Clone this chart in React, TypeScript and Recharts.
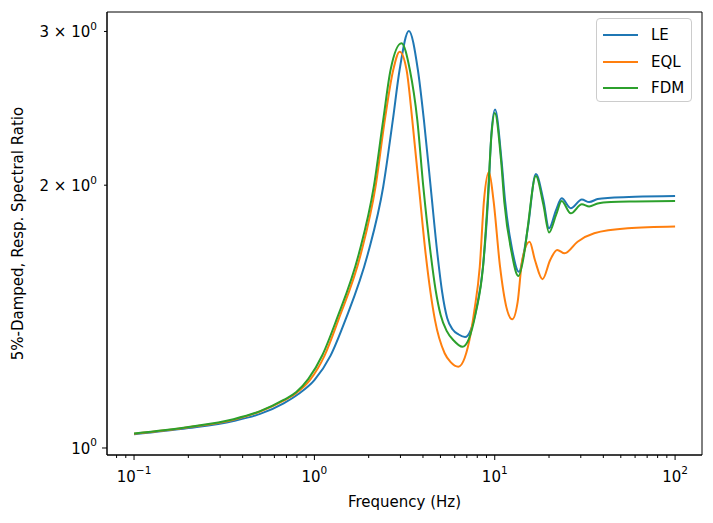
import { Legend, Line, LineChart, ReferenceArea, XAxis, YAxis } from 'recharts';

const FONT = '"DejaVu Sans", sans-serif';
const FONT_SIZE = 15;

const X_DOMAIN = [0.0708, 141];
const Y_DOMAIN = [0.9817, 3.158];

// LE (blue)
const LE_FREQ = [
  0.1, 0.2, 0.356, 0.5, 0.675, 0.815, 1.0, 1.227, 1.486, 1.982, 2.408, 2.723, 2.967, 3.34, 3.749,
  4.047, 4.411, 4.806, 5.109, 5.447, 5.845, 6.31, 6.84, 7.36, 7.94, 8.61, 9.18, 9.59, 10.04, 10.9,
  11.4, 12.5, 13.6, 14.6, 15.3, 16.9, 18.6, 20.0, 21.9, 23.5, 26.4, 30.4, 33.4, 37.2, 44.1, 60, 100,
];
const LE_RATIO = [
  1.037, 1.054, 1.074, 1.094, 1.125, 1.153, 1.196, 1.275, 1.402, 1.671, 1.992, 2.376, 2.71, 3.004,
  2.71, 2.376, 1.992, 1.671, 1.509, 1.409, 1.367, 1.349, 1.34, 1.365, 1.449, 1.613, 1.923, 2.294,
  2.442, 2.138, 1.923, 1.686, 1.592, 1.686, 1.793, 2.06, 1.923, 1.785, 1.874, 1.932, 1.882, 1.926,
  1.913, 1.928, 1.935, 1.94, 1.944,
];

// EQL (orange)
const EQL_FREQ = [
  0.1, 0.2, 0.356, 0.5, 0.675, 0.794, 0.944, 1.137, 1.359, 1.813, 2.183, 2.458, 2.736, 2.97, 3.245,
  3.489, 3.797, 4.136, 4.66, 5.275, 5.695, 6.285, 6.81, 7.36, 7.7, 8.26, 8.72, 9.29, 9.84, 10.7,
  11.6, 12.5, 13.4, 14.2, 15.6, 16.7, 18.4, 20.3, 22.2, 24.4, 28.8, 35.6, 54.6, 100,
];
const EQL_RATIO = [
  1.038, 1.056, 1.077, 1.101, 1.133, 1.156, 1.196, 1.275, 1.402, 1.671, 1.992, 2.376, 2.71, 2.844,
  2.71, 2.376, 1.992, 1.671, 1.402, 1.284, 1.254, 1.239, 1.268, 1.353, 1.435, 1.613, 1.923, 2.071,
  1.923, 1.613, 1.45, 1.404, 1.47, 1.642, 1.723, 1.642, 1.561, 1.642, 1.686, 1.671, 1.723, 1.762,
  1.785, 1.793,
];

// FDM (green)
const FDM_FREQ = [
  0.1, 0.2, 0.356, 0.5, 0.675, 0.794, 0.926, 1.108, 1.325, 1.767, 2.135, 2.408, 2.644, 3.04, 3.384,
  3.72, 4.017, 4.411, 4.701, 5.012, 5.412, 5.918, 6.616, 7.17, 7.845, 8.61, 9.14, 9.59, 10.0, 10.86,
  11.3, 12.4, 13.5, 14.6, 15.2, 16.9, 18.6, 20.0, 21.9, 23.5, 26.4, 30.4, 33.4, 37.2, 44.1, 60, 100,
];
const FDM_RATIO = [
  1.039, 1.057, 1.079, 1.102, 1.135, 1.159, 1.2, 1.278, 1.402, 1.671, 1.992, 2.376, 2.71, 2.908,
  2.71, 2.376, 1.992, 1.671, 1.517, 1.42, 1.362, 1.328, 1.306, 1.332, 1.428, 1.613, 1.923, 2.283,
  2.42, 2.126, 1.913, 1.675, 1.574, 1.675, 1.782, 2.049, 1.9, 1.765, 1.85, 1.918, 1.857, 1.902,
  1.891, 1.906, 1.913, 1.916, 1.918,
];

const X_TICKS = [
  0.08, 0.09, 0.1, 0.2, 0.3, 0.4, 0.5, 0.6, 0.7, 0.8, 0.9, 1, 2, 3, 4, 5, 6, 7, 8, 9, 10, 20, 30,
  40, 50, 60, 70, 80, 90, 100,
];
const X_EXPONENTS: Record<number, string> = { 0.1: '\u22121', 1: '0', 10: '1', 100: '2' };
const Y_TICKS = [1, 2, 3];
const Y_PREFIX: Record<number, string> = { 1: '', 2: '2 \u00d7 ', 3: '3 \u00d7 ' };

const SERIES = [
  { name: 'LE', color: '#1f77b4', freq: LE_FREQ, ratio: LE_RATIO },
  { name: 'EQL', color: '#ff7f0e', freq: EQL_FREQ, ratio: EQL_RATIO },
  { name: 'FDM', color: '#2ca02c', freq: FDM_FREQ, ratio: FDM_RATIO },
];

const XTick = (props: any) => {
  const { x, y, payload } = props;
  const exp = X_EXPONENTS[payload.value];
  const major = exp !== undefined;
  return (
    <g>
      <line x1={x} x2={x} y1={y} y2={y + (major ? 5 : 3)} stroke="#000" strokeWidth={1} />
      {major && (
        <text x={x} y={y + 26.5} textAnchor="middle" fontFamily={FONT} fontSize={FONT_SIZE} fill="#000">
          10
          <tspan dy={-7.5} fontSize={10.5}>
            {exp}
          </tspan>
        </text>
      )}
    </g>
  );
};

const YTick = (props: any) => {
  const { x, y, payload } = props;
  const major = payload.value === 1;
  return (
    <g>
      <line x1={x} x2={x - (major ? 5 : 3)} y1={y} y2={y} stroke="#000" strokeWidth={1} />
      <text x={x - 10} y={y + 6} textAnchor="end" fontFamily={FONT} fontSize={FONT_SIZE} fill="#000">
        {Y_PREFIX[payload.value]}10
        <tspan dy={-7.5} fontSize={10.5}>
          0
        </tspan>
      </text>
    </g>
  );
};

const LegendBox = () => (
  <div
    style={{
      width: 96,
      height: 84,
      boxSizing: 'border-box',
      border: '1px solid #cccccc',
      borderRadius: 4,
      background: 'rgba(255,255,255,0.8)',
      fontFamily: FONT,
      fontSize: FONT_SIZE,
      position: 'relative',
    }}
  >
    {SERIES.map((s, i) => (
      <div
        key={s.name}
        style={{
          position: 'absolute',
          left: 6,
          top: 7 + i * 26.7,
          height: 18,
          display: 'flex',
          alignItems: 'center',
          lineHeight: '18px',
        }}
      >
        <span style={{ display: 'inline-block', width: 35, height: 2, background: s.color }} />
        <span style={{ marginLeft: 13, color: '#000' }}>{s.name}</span>
      </div>
    ))}
  </div>
);

export default function App() {
  return (
    <div style={{ position: 'absolute', left: 0, top: 0, background: '#fff' }}>
      <LineChart width={713} height={523} margin={{ top: 12, right: 11, bottom: 0, left: 0 }}>
        <XAxis
          dataKey="f"
          type="number"
          scale="log"
          domain={X_DOMAIN}
          allowDataOverflow
          ticks={X_TICKS}
          interval={0}
          tick={<XTick />}
          tickLine={false}
          tickSize={0}
          tickMargin={0}
          height={68}
          axisLine={{ stroke: '#000', strokeWidth: 1 }}
          label={{
            content: (p: any) => {
              const vb = p.viewBox;
              return (
                <text
                  x={vb.x + vb.width / 2}
                  y={507}
                  textAnchor="middle"
                  fontFamily={FONT}
                  fontSize={FONT_SIZE}
                  fill="#000"
                >
                  Frequency (Hz)
                </text>
              );
            },
          }}
        />
        <YAxis
          type="number"
          scale="log"
          domain={Y_DOMAIN}
          allowDataOverflow
          ticks={Y_TICKS}
          interval={0}
          tick={<YTick />}
          tickLine={false}
          tickSize={0}
          tickMargin={0}
          width={107}
          axisLine={{ stroke: '#000', strokeWidth: 1 }}
          label={{
            content: (p: any) => {
              const vb = p.viewBox;
              const cy = vb.y + vb.height / 2;
              return (
                <text
                  x={23}
                  y={cy}
                  transform={`rotate(-90 23 ${cy})`}
                  textAnchor="middle"
                  fontFamily={FONT}
                  fontSize={FONT_SIZE}
                  fill="#000"
                >
                  5%-Damped, Resp. Spectral Ratio
                </text>
              );
            },
          }}
        />
        {/* axes frame (top and right spines) */}
        <ReferenceArea
          x1={X_DOMAIN[0]}
          x2={X_DOMAIN[1]}
          y1={Y_DOMAIN[0]}
          y2={Y_DOMAIN[1]}
          fill="none"
          fillOpacity={0}
          stroke="#000"
          strokeWidth={1}
          ifOverflow="visible"
        />
        <Legend
          layout="vertical"
          align="center"
          verticalAlign="middle"
          wrapperStyle={{ top: 18, left: 596, width: 96, height: 84 }}
          content={() => <LegendBox />}
        />
        {SERIES.map((s) => (
          <Line
            key={s.name}
            name={s.name}
            data={s.freq.map((f, i) => ({ f, v: s.ratio[i] }))}
            dataKey="v"
            type="monotone"
            stroke={s.color}
            strokeWidth={2}
            dot={false}
            activeDot={false}
            isAnimationActive={false}
          />
        ))}
      </LineChart>
    </div>
  );
}
